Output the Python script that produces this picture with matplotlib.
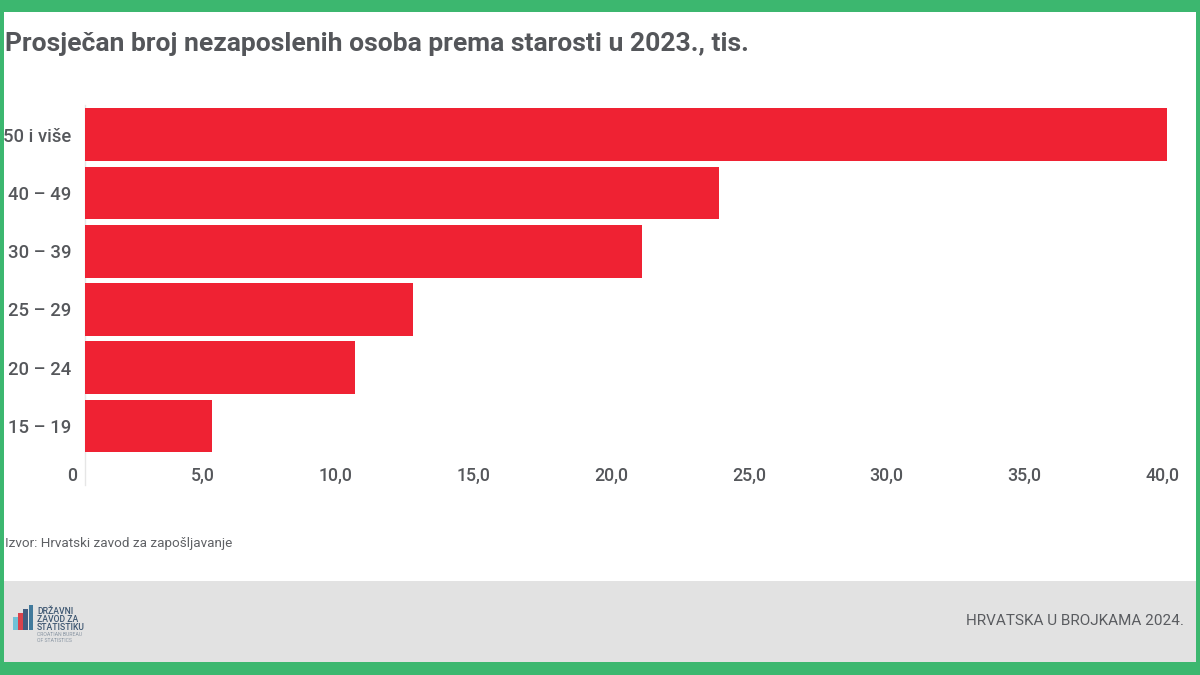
import matplotlib
matplotlib.use("Agg")
import matplotlib.pyplot as plt
from matplotlib.patches import Rectangle
from matplotlib.transforms import ScaledTranslation

categories = ["50 i više", "40 – 49", "30 – 39", "25 – 29", "20 – 24", "15 – 19"]
values = [39.3, 23.03, 20.22, 11.9, 9.8, 4.6]
x_ticks = [0, 5, 10, 15, 20, 25, 30, 35, 40]
x_tick_labels = ["0", "5,0", "10,0", "15,0", "20,0", "25,0", "30,0", "35,0", "40,0"]
title = "Prosječan broj nezaposlenih osoba prema starosti u 2023., tis."
source = "Izvor: Hrvatski zavod za zapošljavanje"
footer = "HRVATSKA U BROJKAMA 2024."
logo_bar_heights = [13, 17, 21, 25]
logo_bar_colors = ["#63bfd6", "#d8323c", "#2f4f75", "#2f6f95"]
logo_lines = ["DRŽAVNI", "ZAVOD ZA", "STATISTIKU"]

W, H = 1200, 675
plt.rcParams["font.family"] = ["Roboto", "DejaVu Sans"]
fig = plt.figure(figsize=(W / 100, H / 100), dpi=100, facecolor="#3cb76f")

bg = fig.add_axes([0, 0, 1, 1])
bg.set_xlim(0, W)
bg.set_ylim(H, 0)
bg.axis("off")
bg.add_patch(Rectangle((4, 12), 1192, 650, fc="white", ec="none"))
bg.add_patch(Rectangle((4, 581), 1192, 81, fc="#e2e2e2", ec="none"))
bg.plot([85, 85], [105, 485], color="#e6e6e6", lw=1)

bg.text(5, 44, title, fontsize=19.05, fontweight="bold", color="#54565a", va="center", ha="left")
bg.text(5, 543, source, fontsize=9.7, color="#5f6165", va="center", ha="left")
bg.text(1184, 621, footer, fontsize=11.0, color="#5a5c60", va="center", ha="right")

# logo
for i, (h, c) in enumerate(zip(logo_bar_heights, logo_bar_colors)):
    bg.add_patch(Rectangle((13 + i * 5.2, 630 - h), 4.8, h, fc=c, ec="none", alpha=0.9))
for i, line in enumerate(logo_lines):
    bg.text(37, 612 + i * 7.8, line, fontsize=6.2, fontweight="medium", color="#3c5570", va="center", ha="left")
bg.text(37, 635, "CROATIAN BUREAU", fontsize=3.7, color="#8a96a3", va="center", ha="left")
bg.text(37, 640, "OF STATISTICS", fontsize=3.7, color="#8a96a3", va="center", ha="left")

x0, x1 = 85, 1186.6
y0, y1 = 105.6, 455
ax = fig.add_axes([x0 / W, 1 - y1 / H, (x1 - x0) / W, (y1 - y0) / H])
ax.patch.set_alpha(0)
positions = list(range(len(categories)))
ax.barh(positions, values, height=0.905, color="#ef2233", edgecolor="none")
ax.set_xlim(0, 40)
ax.set_ylim(len(categories) - 0.5, -0.5)
for s in ax.spines.values():
    s.set_visible(False)
ax.set_yticks(positions, categories)
ax.set_xticks(x_ticks, x_tick_labels)
ax.tick_params(axis="both", length=0)
ax.tick_params(axis="y", pad=10, labelsize=13.3, labelcolor="#55575b")
ax.tick_params(axis="x", pad=8.5, labelsize=12.8, labelcolor="#55575b")
offset = ScaledTranslation(-7.5 / 100, 0, fig.dpi_scale_trans)
for lab in ax.get_xticklabels():
    lab.set_ha("right")
    lab.set_transform(lab.get_transform() + offset)
    lab.set_fontweight("medium")
for lab in ax.get_yticklabels():
    lab.set_fontweight("medium")

fig.savefig("out.png", dpi=100, facecolor=fig.get_facecolor())
